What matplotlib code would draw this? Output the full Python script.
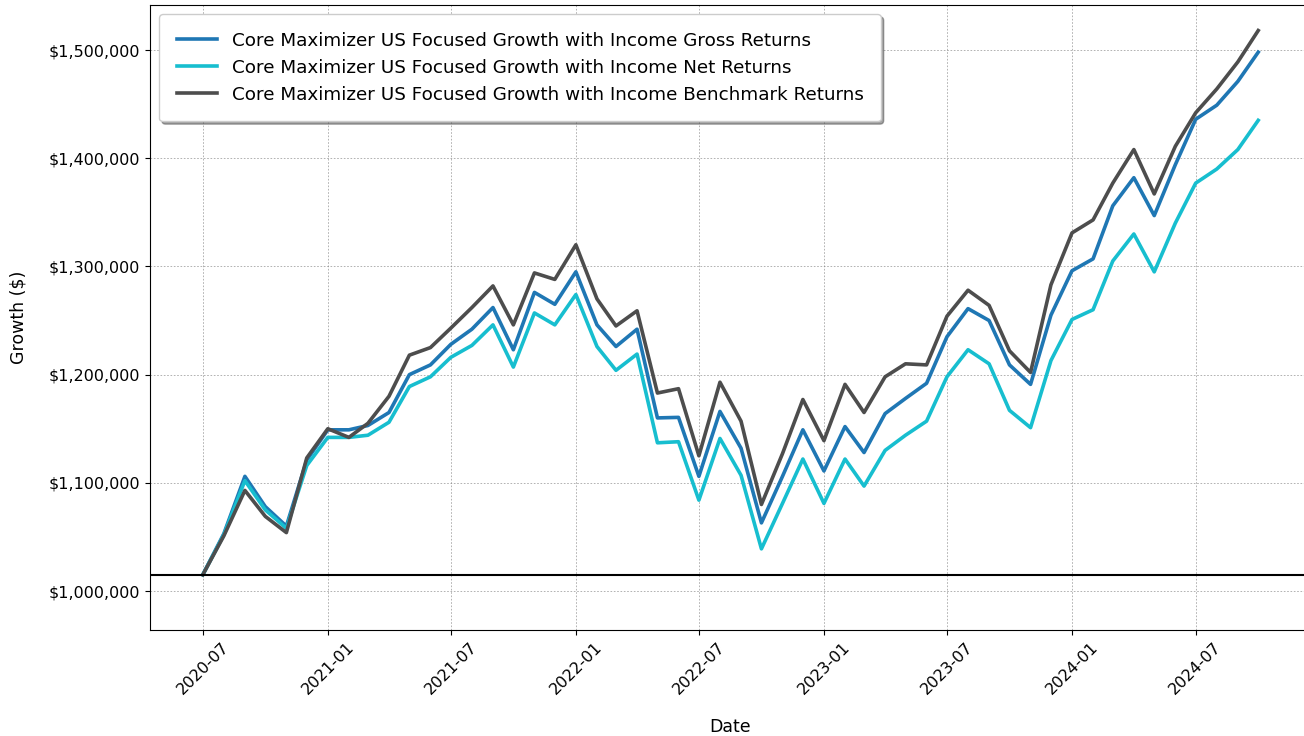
import matplotlib
matplotlib.use("Agg")
import matplotlib.pyplot as plt
import matplotlib.dates as mdates
import matplotlib.ticker as mticker
import pandas as pd

dates = pd.date_range("2020-07-01", periods=52, freq="MS")

gross = [1015000, 1053000, 1106000, 1078000, 1060000, 1121000, 1149000, 1149000,
         1153000, 1165000, 1200000, 1209000, 1228000, 1242000, 1262000, 1223000,
         1276000, 1265000, 1295000, 1246000, 1226000, 1242000, 1160000, 1160500,
         1106000, 1166000, 1132000, 1063000, 1106000, 1149000, 1111000, 1152000,
         1128000, 1164000, 1178000, 1192000, 1235000, 1261000, 1250000, 1209000,
         1191000, 1255000, 1296000, 1307000, 1356000, 1382000, 1347000, 1394000,
         1436000, 1449000, 1471000, 1498000]

net = [1015000, 1052000, 1102000, 1075000, 1058000, 1116000, 1142000, 1142000,
       1144000, 1156000, 1189000, 1198000, 1216000, 1227000, 1246000, 1207000,
       1257000, 1246000, 1274000, 1226000, 1204000, 1219000, 1137000, 1138000,
       1084000, 1141000, 1107000, 1039000, 1081000, 1122000, 1081000, 1122000,
       1097000, 1130000, 1144000, 1157000, 1198000, 1223000, 1210000, 1167000,
       1151000, 1213000, 1251000, 1260000, 1305000, 1330000, 1295000, 1340000,
       1377000, 1390000, 1408000, 1435000]

bench = [1015000, 1051000, 1093000, 1069000, 1054000, 1123000, 1150000, 1142000,
         1155000, 1180000, 1218000, 1225000, 1243000, 1262000, 1282000, 1246000,
         1294000, 1288000, 1320000, 1270000, 1245000, 1259000, 1183000, 1187000,
         1125000, 1193000, 1157000, 1080000, 1127000, 1177000, 1139000, 1191000,
         1165000, 1198000, 1210000, 1209000, 1254000, 1278000, 1264000, 1222000,
         1202000, 1283000, 1331000, 1343000, 1377000, 1408000, 1367000, 1411000,
         1442000, 1464000, 1489000, 1518000]

baseline = 1015000

labels = ["Core Maximizer US Focused Growth with Income Gross Returns",
          "Core Maximizer US Focused Growth with Income Net Returns",
          "Core Maximizer US Focused Growth with Income Benchmark Returns"]

fig = plt.figure(figsize=(13.04, 7.36), dpi=100)
ax = fig.add_axes([150/1304, 106/736, (1311-150)/1304, 625/736])

ax.plot(dates, gross, color="#1f77b4", lw=2.6, label=labels[0])
ax.plot(dates, net, color="#17becf", lw=2.6, label=labels[1])
ax.plot(dates, bench, color="#4d4d4d", lw=2.6, label=labels[2])
ax.axhline(baseline, color="black", lw=1.5)

ax.set_ylim(964000, 1541600)
ax.yaxis.set_major_formatter(mticker.FuncFormatter(lambda v, p: f"${v:,.0f}"))
ax.xaxis.set_major_locator(mdates.MonthLocator(bymonth=[1, 7]))
ax.xaxis.set_major_formatter(mdates.DateFormatter("%Y-%m"))
plt.setp(ax.get_xticklabels(), rotation=45, ha="center", rotation_mode="default")
ax.tick_params(labelsize=11.5)

ax.grid(True, linestyle=(0, (2, 2)), linewidth=0.6, color="gray", alpha=0.7)
ax.set_xlabel("Date", fontsize=12.5, labelpad=15)
ax.set_ylabel("Growth ($)", fontsize=12.5, labelpad=15)

ax.legend(loc="upper left", fontsize=13.2, shadow=True, frameon=True,
          borderpad=0.95, handlelength=2.2)

fig.savefig("out.png", dpi=100)
